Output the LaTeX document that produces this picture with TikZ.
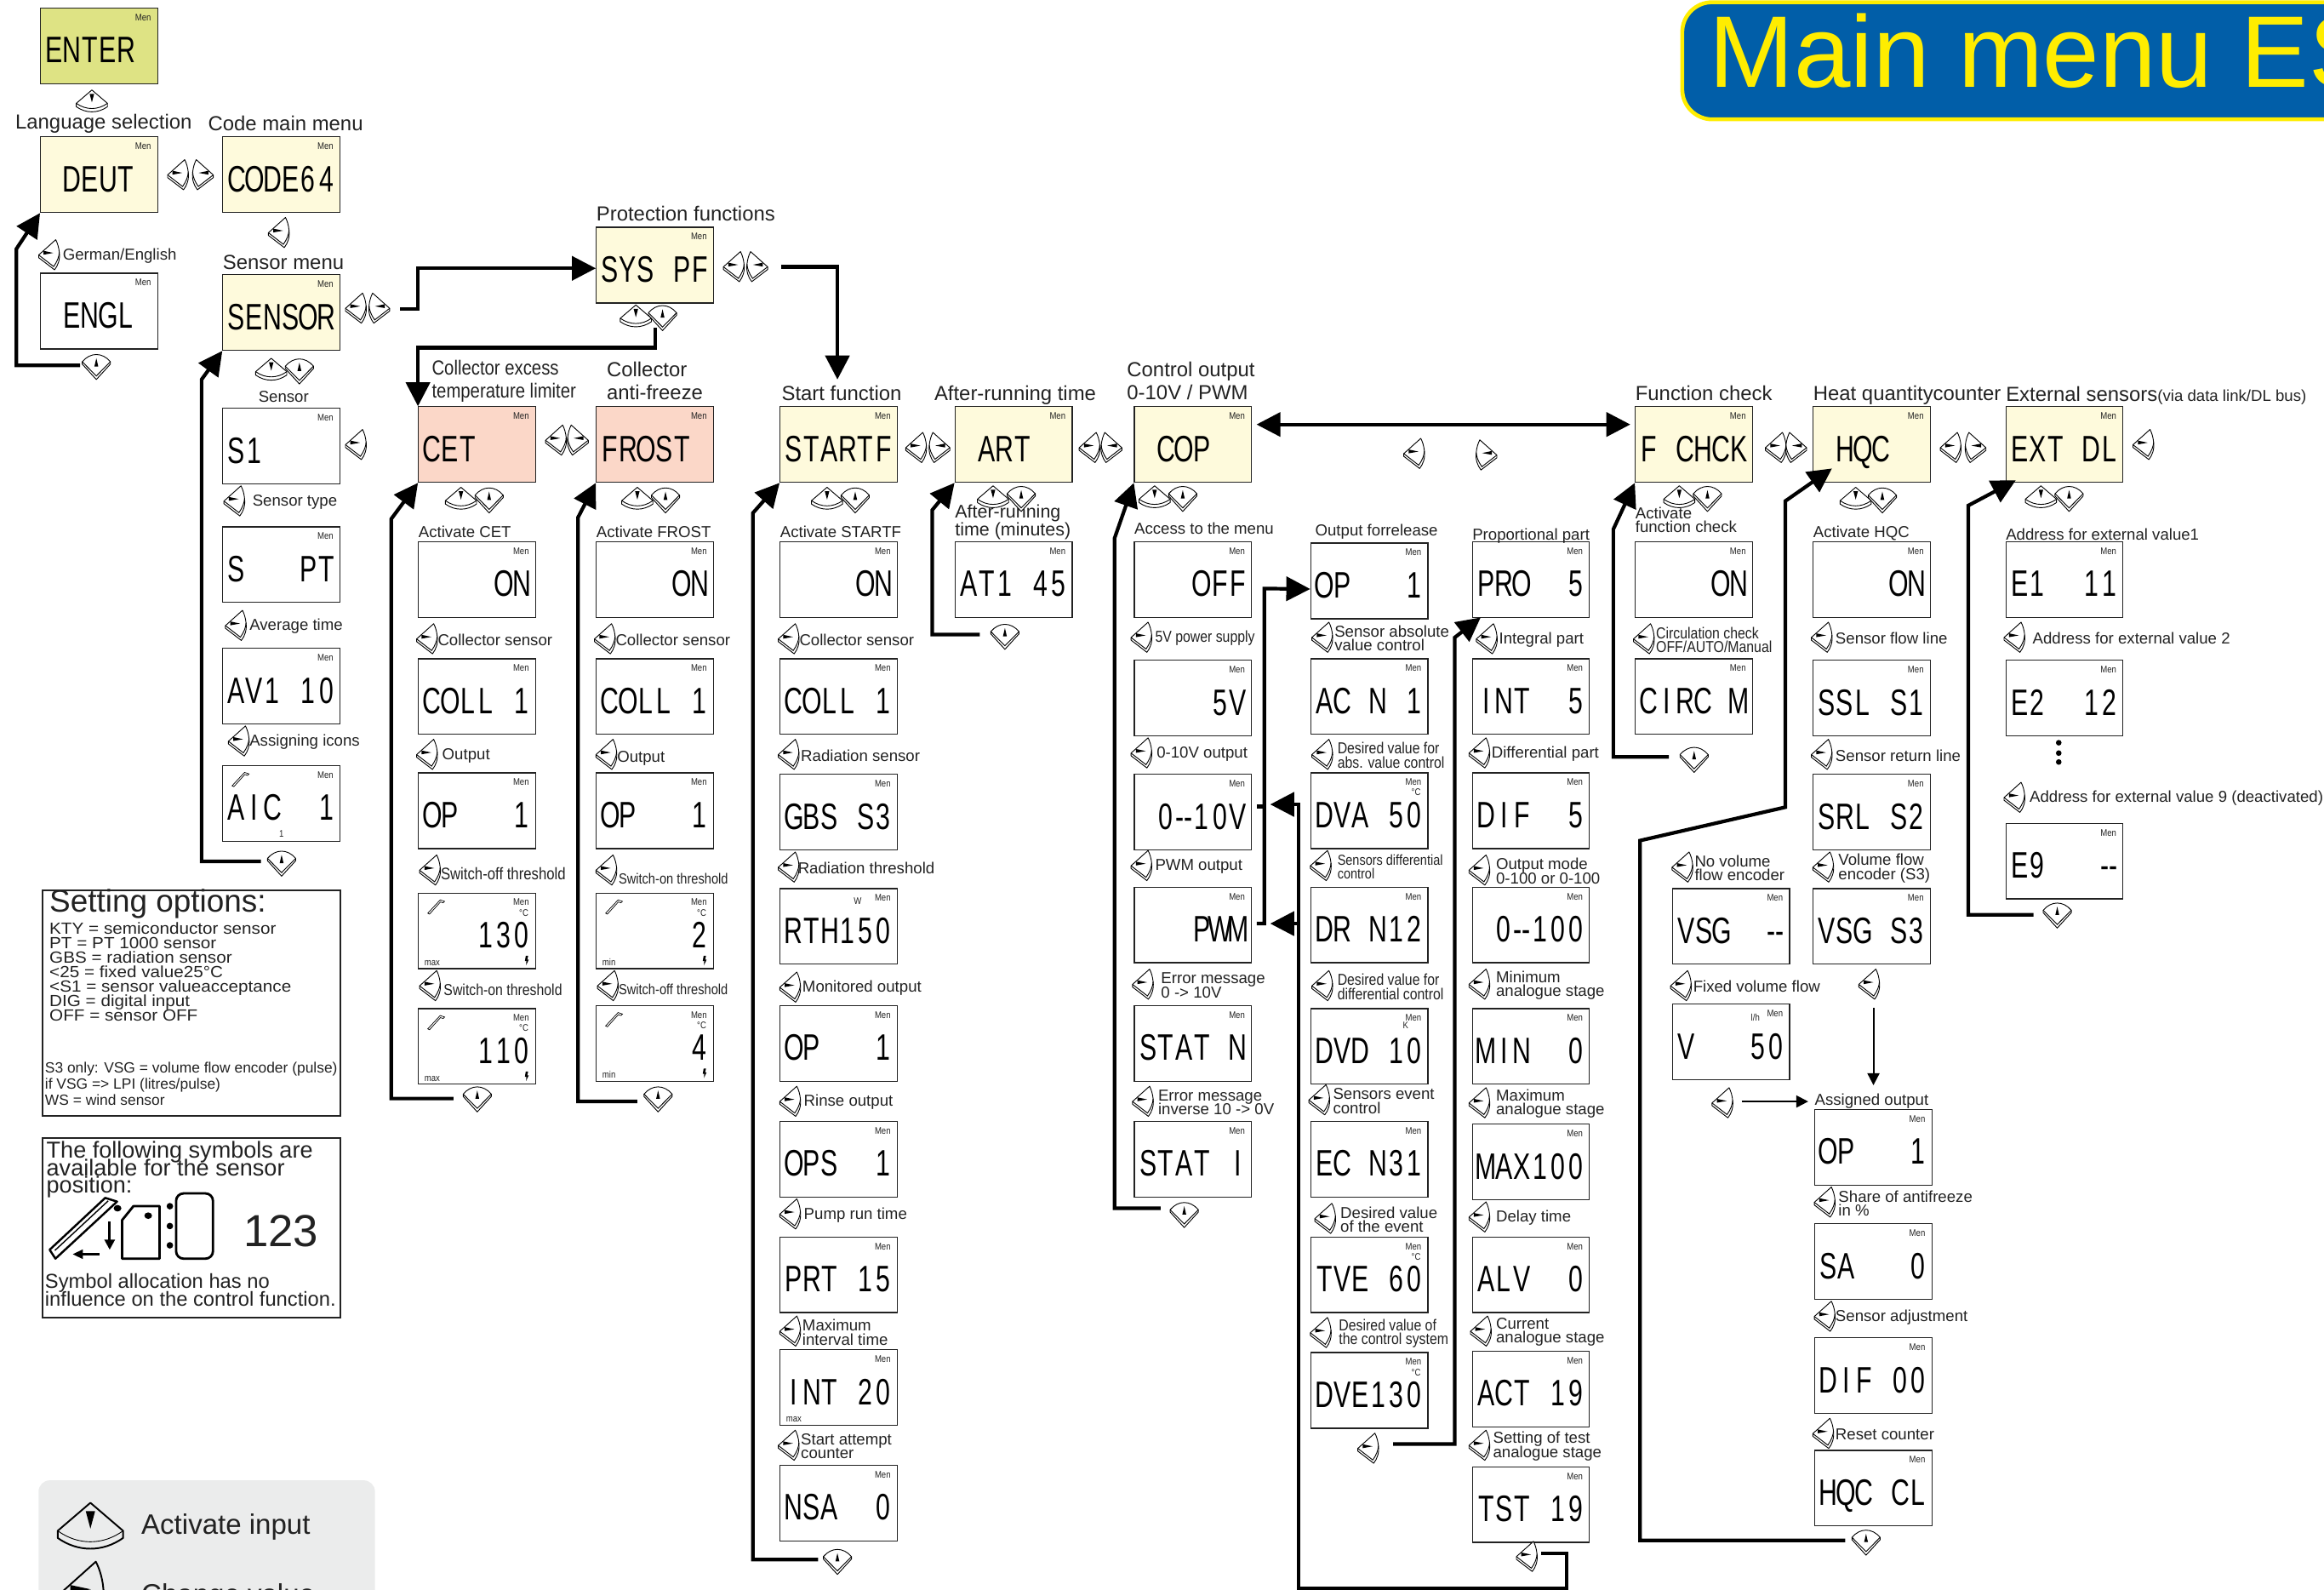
\documentclass[tikz,border=0pt]{standalone}
\usepackage{fontspec}
\setmainfont{Liberation Sans}
\newfontfamily\narrowfont[FakeStretch=0.85]{Liberation Sans}
\newfontfamily\lcdfont[FakeStretch=0.7]{Liberation Sans}
\newfontfamily\widefont[FakeStretch=1.09]{Liberation Sans}
\usetikzlibrary{arrows.meta}

\definecolor{scryellow}{HTML}{FEFADC}
\definecolor{screnter}{HTML}{DEE384}
\definecolor{scrred}{HTML}{FBD7C8}
\definecolor{bannerblue}{HTML}{015EA8}
\definecolor{banneryellow}{HTML}{FFED00}
\definecolor{legendgray}{HTML}{EBECEC}
\definecolor{inkgray}{HTML}{222222}
\colorlet{keyfill}{white}

% tight lines stay evenly spaced
\normallineskiplimit=-100pt
\lineskiplimit=-100pt

% one cell of the display for each character
\def\lcdloop#1{\ifx\relax#1\else\makebox[6pt]{#1}\expandafter\lcdloop\fi}

\tikzset{
  screen/.style={draw=inkgray, line width=.35pt, minimum width=1.376cm, minimum height=.888cm,
    inner sep=0pt, anchor=north west},
  lcd/.style={font=\lcdfont\fontsize{12.3}{12.3}\selectfont, inner sep=0pt, anchor=base, text=black},
  menmark/.style={font=\narrowfont\fontsize{3.2}{3.2}\selectfont, inner sep=0pt, text=inkgray},
  ttl/.style={font=\fontsize{6.8}{7.6}\selectfont, anchor=west, inner sep=0pt, align=left, text=inkgray},
  lab/.style={font=\fontsize{5.3}{4.7}\selectfont, anchor=west, inner sep=0pt, align=left, text=inkgray, yshift=-.3pt},
  labn/.style={lab, font=\narrowfont\fontsize{5.3}{4.7}\selectfont},
  infobox/.style={draw=inkgray, line width=.6pt, minimum width=1.0cm, inner sep=0pt, anchor=north west},
  keyline/.style={draw=black, fill=keyfill, line width=.26pt, line join=round},
  flow/.style={line width=1.2pt, line join=miter, -{Triangle[length=8pt,width=8pt]}},
  flowplain/.style={line width=1.2pt},
  thinflow/.style={line width=.6pt, -{Triangle[length=4pt,width=4pt]}},
  keyleft/.pic={
    \path[keyline] (4.6,-10.3) -- (-6.9,0) -- (-6.9,1.8) -- (3.8,10) .. controls (6.2,7) and (7.6,3) .. (7,-1.8)
      .. controls (6.7,-5) and (5.8,-8) .. (4.6,-10.3) -- cycle;
    \draw[line width=.26pt] (-6.9,0) -- (3.2,7.8) .. controls (5.6,4.5) and (6.9,1) .. (7,-1.8);
    \fill (-3.6,-2.8) -- (-3.6,-.2) -- (3,-1.4) -- cycle;
  },
  keyup/.pic={
    \path[keyline] (0,-7.3) -- (-10.5,1.7) -- (-10.5,4) .. controls (-4,8.6) and (4,8.6) .. (10.5,4) -- (10.5,1.7) -- cycle;
    \draw[line width=.26pt] (-10.5,1.7) .. controls (-4,6.4) and (4,6.4) .. (10.5,1.7);
    \fill (-1.5,-4.6) -- (1.5,-4.6) -- (0,1) -- cycle;
  },
  keydown/.pic={
    \path[keyline] (-9.5,-2) .. controls (-4,-8.5) and (4,-8.5) .. (9.5,-2) -- (9.5,-.4) -- (0,10) -- (-9.5,-.4) -- cycle;
    \draw[line width=.26pt] (-9.5,-2) -- (0,7.6) -- (9.5,-2);
    \fill (-1.3,1.2) -- (1.3,1.2) -- (0,-4.4) -- cycle;
  },
  penmark/.pic={
    \draw[line width=.2pt] (6.6,14) -- (15,5) -- (18,6) -- (17,7) -- (15.2,6.4) -- (7.8,14.6) -- cycle;
  },
  boltmark/.pic={
    \fill (-7,-9) -- (-5.4,-9) -- (-6,-6.4) -- (-5,-6.4) -- (-6.8,-2.6) -- (-6.6,-5.4) -- (-7.6,-5.4) -- cycle;
  },
}

\begin{document}
\begin{tikzpicture}[x=0.017417cm, y=-0.017417cm]
  \useasboundingbox (0,0) rectangle (1568,1072);
  \clip (0,0) rectangle (1568,1072);

  % the banner
  \filldraw[draw=banneryellow, fill=bannerblue, line width=1.3pt, rounded corners=10pt] (1135,1.5) rectangle (1700,80.5);
  \node[font=\fontsize{34}{34}\selectfont, text=banneryellow, inner sep=0pt, anchor=base west] (title) at (1153,59) {Main menu ES};

  % the displays: name/x/y/fill/characters
  \foreach \n/\x/\y/\s/\t in {
    enter/27/5/screnter/ENTER~, deut/27/92/scryellow/~DEUT~, code/150/92/scryellow/CODE64, engl/27/184/white/~ENGL~,
    sensor/150/185/scryellow/SENSOR, sys/402/153/scryellow/SYS~PF,
    sone/150/275/white/S1~~~~, stype/150/355/white/S~~~PT, avg/150/437/white/AV1~10, aic/150/516/white/AIC~~1,
    cet/282/274/scrred/CET~~~, cetOn/282/365/white/~~~~ON, cetColl/282/444/white/COLL~1, cetOp/282/521/white/OP~~~1,
    cetOff/282/602/white/~~~130, cetBack/282/680/white/~~~110,
    frost/402/274/scrred/FROST~, frOn/402/365/white/~~~~ON, frColl/402/444/white/COLL~1, frOp/402/521/white/OP~~~1,
    frSwOn/402/602/white/~~~~~2, frSwOff/402/678/white/~~~~~4,
    start/526/274/scryellow/STARTF, stOn/526/365/white/~~~~ON, stColl/526/444/white/COLL~1, stGbs/526/522/white/GBS~S3,
    stRth/526/599/white/RTH150, stOp/526/678/white/OP~~~1, stOps/526/756/white/OPS~~1, stPrt/526/834/white/PRT~15,
    stInt/526/910/white/INT~20, stNsa/526/988/white/NSA~~0,
    art/644/274/scryellow/~ART~~, artTime/644/365/white/AT1~45,
    cop/765/274/scryellow/~COP~~, copOff/765/365/white/~~~OFF, copFive/765/445/white/~~~~5V, copTen/765/522/white/~0{--}10V,
    copPwm/765/598/white/~~~PWM, statN/765/678/white/STAT~N, statI/765/756/white/STAT~I,
    opf/884/366/white/OP~~~1, acn/884/444/white/AC~N~1, dva/884/521/white/DVA~50, drn/884/598/white/DR~N12,
    dvd/884/680/white/DVD~10, ecn/884/756/white/EC~N31, tve/884/834/white/TVE~60, dve/884/912/white/DVE130,
    pro/993/365/white/PRO~~5, intp/993/444/white/INT~~5, difp/993/521/white/DIF~~5, mode/993/598/white/~0{--}100,
    minp/993/680/white/MIN~~0, maxp/993/758/white/MAX100, alv/993/834/white/ALV~~0, act/993/911/white/ACT~19, tst/993/989/white/TST~19,
    fchk/1103/274/scryellow/F~CHCK, fcOn/1103/365/white/~~~~ON, circ/1103/444/white/CIRC~M,
    hqc/1223/274/scryellow/~HQC~~, hqOn/1223/365/white/~~~~ON, ssl/1223/445/white/SSL~S1, srl/1223/522/white/SRL~S2,
    vsgS/1223/599/white/VSG~S3, vsgN/1128/599/white/VSG~~{--}, vfix/1128/677/white/V~~~50,
    hqOp/1224/748/white/OP~~~1, sa/1224/825/white/SA~~~0, hqDif/1224/902/white/DIF~00, hqCl/1224/978/white/HQC~CL,
    ext/1353/274/scryellow/EXT~DL, eone/1353/365/white/E1~~11, etwo/1353/445/white/E2~~12, enine/1353/555/white/E9~~~{--}%
  } {
    \node[screen, fill=\s] (\n) at (\x,\y) {};
    \node[lcd] (\n-t) at ([yshift=-5.7pt]\n.center) {\expandafter\lcdloop\t\relax};
    \node[menmark, anchor=north east] (\n-m) at ([xshift=-2.2pt,yshift=-2pt]\n.north east) {Men};
  }

  % the small marks inside some displays
  \foreach \n in {cetOff,cetBack,frSwOn,frSwOff,dva,tve,dve} {
    \node[menmark, anchor=north east] (\n-c) at ([xshift=-2.4pt,yshift=-5.4pt]\n.north east) {°C};
  }
  \foreach \n in {cetOff,cetBack,frSwOn,frSwOff,aic} {
    \pic at (\n.north west) {penmark};
  }
  \foreach \n in {cetOff,cetBack,frSwOn,frSwOff} {
    \pic at (\n.south east) {boltmark};
  }
  \foreach \n/\t in {cetOff/max,cetBack/max,frSwOn/min,frSwOff/min,stInt/max} {
    \node[menmark, anchor=south west] (\n-l) at ([xshift=2pt,yshift=1pt]\n.south west) {\t};
  }
  \node[menmark] (aicOne) at ([yshift=2.6pt]aic.south) {1};
  \node[menmark] (rthUnit) at ([xshift=-13.4pt,yshift=-4.4pt]stRth.north east) {W};
  \node[menmark] (dvdUnit) at ([xshift=-7.6pt,yshift=-5.9pt]dvd.north east) {K};
  \node[menmark] (vfixUnit) at ([xshift=-11.6pt,yshift=-4.7pt]vfix.north east) {l/h};

  % the titles
  \foreach \x/\y/\t [count=\i] in {
    10/83.5/Language selection, 140/83/Code main menu, 150/177/Sensor menu, 402/144/Protection functions,
    409/257/{Collector\\anti-freeze}, 527/265/Start function, 630/266.5/After-running time,
    760/257/{Control output\\0-10V / PWM}, 1103/265/Function check, 1223/266.5/Heat quantitycounter%
  } {
    \node[ttl] (ttl\i) at (\x,\y) {\t};
  }
  \node[ttl, font=\narrowfont\fontsize{6.8}{7.6}\selectfont] (ttlCet) at (291,257) {Collector excess\\temperature limiter};
  \node[ttl] (ttlExt) at (1353,267) {External sensors{\fontsize{5.3}{5.3}\selectfont(via data link/DL bus)}};

  % the labels beside the keys
  \foreach \x/\y/\t [count=\i] in {
    42/172/{German/English}, 174/267/Sensor, 170/338/Sensor type, 168/422/Average time, 168/500/Assigning icons,
    282/358/Activate CET, 295/431/Collector sensor, 298/509/Output,
    402/358/Activate FROST, 415/431/Collector sensor, 416/511/Output,
    526/358/Activate STARTF, 539/431/Collector sensor, 540/509/Radiation sensor, 538/585/Radiation threshold,
    541/666/Monitored output, 542/743/Rinse output, 542/819/Pump run time, 541/898/{Maximum\\interval time},
    540/975/{Start attempt\\counter},
    765/356/Access to the menu, 780/508/0-10V output, 779/584/PWM output, 783/664/{Error message\\0 -> 10V},
    781/743/{Error message\\inverse 10 -> 0V},
    887/358/Output forrelease, 900/430/{Sensor absolute\\value control}, 899/742/{Sensors event\\control}, 904/822/{Desired value\\of the event},
    993/361/Proportional part, 1011/431/Integral part, 1006/508/Differential part, 1009/587/{Output mode\\0-100 or 0-100},
    1009/664/{Minimum\\analogue stage}, 1009/744/{Maximum\\analogue stage}, 1009/821/Delay time,
    1009/898/{Current\\analogue stage}, 1007/975/{Setting of test\\analogue stage},
    1103/350/{Activate\\function check}, 1223/359/Activate HQC, 1238/430/Sensor flow line, 1238/509/Sensor return line,
    1143/585/{No volume\\flow encoder}, 1240/585/{Volume flow\\encoder (S3)}, 1142/665/Fixed volume flow, 1224/742/Assigned output,
    1240/811/{Share of antifreeze\\in \%}, 1238/888/Sensor adjustment, 1238/967/Reset counter,
    1353/360/Address for external value1, 1371/430/Address for external value 2, 1369/538/Address for external value 9 (deactivated)%
  } {
    \node[lab] (lab\i) at (\x,\y) {\t};
  }
  \foreach \x/\y/\t [count=\i] in {
    299/667/Switch-on threshold,
    779/430/5V power supply, 902/509/{Desired value for\\abs. value control},
    902/665/{Desired value for\\differential control}, 903/899/{Desired value of\\the control system},
    1117/431/{Circulation check\\OFF/AUTO/Manual}%
  } {
    \node[labn] (labn\i) at (\x,\y) {\t};
  }
  \node[labn, font=\narrowfont\fontsize{5.6}{4.7}\selectfont] (labnOff) at (297,589) {Switch-off threshold};
  \node[labn, font=\narrowfont\fontsize{4.9}{4.7}\selectfont] (labnOn) at (417,592) {Switch-on threshold};
  \node[labn, font=\narrowfont\fontsize{4.9}{4.7}\selectfont] (labnFr) at (417,667) {Switch-off threshold};
  \node[labn, font=\narrowfont\fontsize{4.85}{4.7}\selectfont] (labnDiff) at (902,584) {Sensors differential\\control};
  \node[ttl, font=\fontsize{6.1}{5.9}\selectfont] (labArt) at (644,352) {After-running\\time (minutes)};

  % the keys
  \foreach \x/\y in {
    120/118, 188/157, 33/172, 240/208, 240/300, 158/338, 159/422, 161/500, 495/180, 375/297,
    288/431, 288/509, 290/587, 290/665, 408/431, 409/509, 409/587, 410/665, 618/302,
    532/431, 532/509, 532/585, 533/666, 533/743, 533/819, 533/898, 532/975, 735/302,
    770/430, 770/508, 770/584, 771/664, 771/743, 954/306,
    892/430, 892/509, 891/584, 892/665, 890/742, 894/822, 891/899, 923/977,
    1003/431, 998/508, 998/587, 998/664, 998/744, 998/821, 999/898, 998/975, 1030/1050,
    1198/302, 1109/431, 1316/302, 1229/430, 1229/509, 1230/585, 1135/585, 1134/665, 1261/664, 1162/744,
    1231/811, 1231/888, 1230/967, 1446/300, 1359/430, 1359/538%
  } {
    \pic at (\x,\y) {keyleft};
  }
  \foreach \x/\y in {137/118, 256/208, 511/180, 390/297, 634/302, 750/302, 1003/307, 1212/302, 1333/302} {
    \pic[xscale=-1] at (\x,\y) {keyleft};
  }
  \foreach \x/\y in {62/68, 183/249, 429/213, 311/336, 430/336, 558/336, 670/335, 779/335, 1133/335, 1252/336, 1377/335} {
    \pic at (\x,\y) {keyup};
  }
  \foreach \x/\y in {
    65/246, 202/249, 447/213, 190/581, 330/336, 322/740, 449/336, 444/740, 577/336, 565/1052,
    689/335, 678/428, 798/335, 799/818, 1152/335, 1143/511, 1270/336, 1259/1039, 1396/335, 1388/616%
  } {
    \pic at (\x,\y) {keydown};
  }
  \foreach \y in {501,508,514} {
    \fill (1389,\y) circle (1.9);
  }

  % the free ends of the connectors
  \coordinate (englEnd) at (54,246.5);
  \coordinate (sensEnd) at (270,208.5);
  \coordinate (sysEnd) at (442,221);
  \coordinate (sysOut) at (527,180);
  \coordinate (startIn) at (565,256);
  \coordinate (aicEnd) at (176,581);
  \coordinate (cetEnd) at (306,741);
  \coordinate (frostEnd) at (430,743);
  \coordinate (startEnd) at (552,1052);
  \coordinate (artEnd) at (661,428);
  \coordinate (copEnd) at (783,815);
  \coordinate (tenOut) at (848,544);
  \coordinate (pwmOut) at (848,623);
  \coordinate (tenIn) at (857,542.6);
  \coordinate (pwmIn) at (857,623);
  \coordinate (tstEnd) at (1040,1048);
  \coordinate (dveEnd) at (940,974);
  \coordinate (proIn) at (999,416.5);
  \coordinate (fcEnd) at (1126,510.6);
  \coordinate (hqEnd) at (1245,1039);
  \coordinate (hqIn) at (1236,316);
  \coordinate (extEnd) at (1372,617);
  \coordinate (extIn) at (1360,324);
  \coordinate (vsgDown) at (1264,680);
  \coordinate (vsgIn) at (1264,732);
  \coordinate (fixOut) at (1175,743);
  \coordinate (fixIn) at (1220,743);

  % the connectors
  \draw[flow] (englEnd) -- (11,246.5) -- (11,168) -- (deut.south west);
  \draw[flow] (sensEnd) -- (282,208.5) -- (282,181) -- (sys.west |- 0,181);
  \draw[flow] (sysEnd) -- (442,234.5) -- (282,234.5) -- (cet.north west);
  \draw[flow] (sysOut) -- (565,180) -- (startIn);
  \draw[flow] (aicEnd) -- (136,581) -- (136,256) -- (sensor.south west);
  \draw[flow] (cetEnd) -- (264,741) -- (264,350) -- (cet.south west);
  \draw[flow] (frostEnd) -- (390,743) -- (390,349) -- (frost.south west);
  \draw[flow] (startEnd) -- (508,1052) -- (508,346) -- (start.south west);
  \draw[flow] (artEnd) -- (629,428) -- (629,344) -- (art.south west);
  \draw[flow] (copEnd) -- (752,815) -- (752,363) -- (cop.south west);
  \draw[flow, {Triangle[length=8pt,width=8pt]}-{Triangle[length=8pt,width=8pt]}]
    ([xshift=1.5pt,yshift=6.7pt]cop.east) -- ([xshift=-1.5pt,yshift=6.7pt]fchk.west);
  \draw[flow] (pwmOut) -- (853,623) -- (853,397) -- ([yshift=-2.7pt]opf.west);
  \draw[flowplain] (tenOut) -- (853,544);
  \draw[flow] (tstEnd) -- (1057,1048) -- (1057,1071.5) -- (876,1071.5) -- (876,542.6) -- (tenIn);
  \draw[flow] (876,623) -- (pwmIn);
  \draw[flow] (dveEnd) -- (981.5,974) -- (981.5,430) -- (proIn);
  \draw[flow] (fcEnd) -- (1088.5,510.6) -- (1088.5,357) -- (fchk.south west);
  \draw[flow] (hqEnd) -- (1106.5,1039) -- (1106.5,567) -- (1204.5,544.5) -- (1204.5,338) -- (hqIn);
  \draw[flow] (extEnd) -- (1328,617) -- (1328,341) -- (extIn);
  \draw[thinflow] (vsgDown) -- (vsgIn);
  \draw[thinflow] (fixOut) -- (fixIn);

  % the box of the setting options
  \node[infobox, minimum width=3.5cm, minimum height=2.647cm] (setbox) at (28,600) {};
  \node[ttl, font=\fontsize{10.5}{10.5}\selectfont] (setTitle) at (33,610) {Setting options:};
  \node[ttl, font=\widefont\fontsize{5.4}{4.85}\selectfont] (setList) at (33,655.5) {KTY = semiconductor sensor\\PT = PT 1000 sensor\\GBS = radiation sensor\\<25 = fixed value25°C\\<S1 = sensor valueacceptance\\DIG = digital input\\OFF = sensor OFF};
  \node[ttl, font=\fontsize{4.95}{5.4}\selectfont] (setMore) at (30,731) {S3 only: VSG = volume flow encoder (pulse)\\if VSG => LPI (litres/pulse)\\WS = wind sensor};

  % the box of the symbols
  \node[infobox, minimum width=3.5cm, minimum height=2.107cm] (symbox) at (28,767) {};
  \node[ttl, font=\fontsize{7.7}{5.9}\selectfont] (symTop) at (31,789) {The following symbols are\\available for the sensor\\position:};
  \node[ttl, font=\fontsize{6.75}{5.9}\selectfont] (symEnd) at (30,870) {Symbol allocation has no\\influence on the control function.};
  \node[ttl, font=\fontsize{15}{15}\selectfont, text=inkgray] (symNum) at (164,830.6) {123};
  \draw[line width=.7pt, line join=round] (33.5,843) -- (71,808) -- (79,810.5) -- (37.4,849) -- cycle;
  \draw[line width=.4pt] (37,843.5) -- (73,810);
  \fill (79.3,815) ellipse (2.6 and 2.2);
  \draw[line width=.8pt, -{Triangle[length=3.4pt,width=3.4pt]}] (74,824) -- (74,843);
  \draw[line width=.8pt, -{Triangle[length=3.4pt,width=3pt]}] (67,846) -- (49,846);
  \draw[line width=.8pt, line join=round] (82.4,849) -- (82.4,823) -- (90,813.6) -- (107.7,813.6) -- (107.7,849) -- cycle;
  \fill (100,820) ellipse (2.6 and 2.2);
  \foreach \y in {813.6,827,840} {
    \fill (114.6,\y) circle (2.2);
  }
  \draw[line width=.8pt, rounded corners=2.5pt] (118.8,805) rectangle (143.7,849);

  % the legend, cut off by the lower edge
  \fill[legendgray, rounded corners=3.8pt] (26,998.5) rectangle (253,1100);
  \begin{scope}
    \colorlet{keyfill}{legendgray}
    \tikzset{keyline/.append style={line width=.55pt}}
    \pic[scale=2.1] at (61,1029) {keyup};
    \pic[scale=2.1] at (55,1075) {keyleft};
  \end{scope}
  \node[ttl, font=\fontsize{9.4}{9.4}\selectfont] (legA) at (95,1030) {Activate input};
  \node[ttl, font=\fontsize{9.4}{9.4}\selectfont] (legB) at (95,1077) {Change value};
\end{tikzpicture}
\end{document}
